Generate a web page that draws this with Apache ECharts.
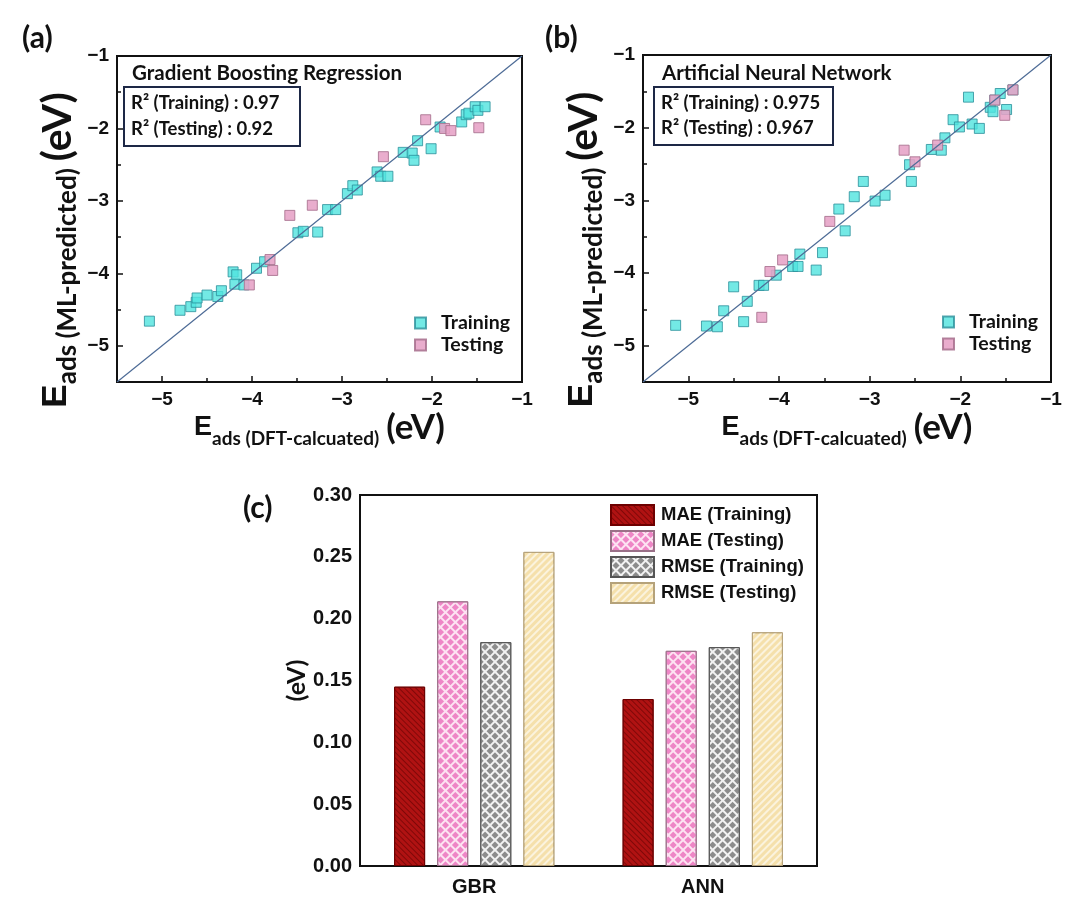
<!DOCTYPE html>
<html>
<head>
<meta charset="utf-8">
<title>GBR / ANN adsorption energy</title>
<script src="https://cdn.jsdelivr.net/npm/echarts@6/dist/echarts.min.js"></script>
<style>
  html, body { margin: 0; background: #fff; }
  #chart { width: 1080px; height: 910px; }
</style>
</head>
<body>
<div id="chart"></div>
<script>
// (a) Gradient Boosting Regression - DFT (x) vs ML (y), eV
var gbrTrainX = [-5.14, -4.80, -4.68, -4.62, -4.61, -4.50, -4.38, -4.34, -4.21, -4.17, -4.19, -4.09, -3.95, -3.86,
  -3.49, -3.43, -3.27, -3.16, -3.07, -2.94, -2.88, -2.83, -2.61, -2.57, -2.49, -2.32, -2.22, -2.20, -2.16, -2.01,
  -1.91, -1.67, -1.62, -1.59, -1.52, -1.49, -1.41];
var gbrTrainY = [-4.66, -4.51, -4.46, -4.40, -4.34, -4.30, -4.32, -4.24, -3.98, -4.02, -4.15, -4.16, -3.93, -3.84,
  -3.44, -3.42, -3.43, -3.12, -3.12, -2.90, -2.79, -2.85, -2.60, -2.66, -2.66, -2.33, -2.34, -2.44, -2.17, -2.28,
  -1.98, -1.91, -1.81, -1.79, -1.70, -1.75, -1.70];
var gbrTestX = [-3.58, -3.33, -3.80, -3.77, -4.03, -2.54, -2.07, -1.86, -1.79, -1.48];
var gbrTestY = [-3.20, -3.06, -3.81, -3.96, -4.16, -2.39, -1.88, -2.00, -2.03, -1.99];

// (b) Artificial Neural Network
var annTrainX = [-5.14, -4.80, -4.68, -4.61, -4.50, -4.39, -4.35, -4.22, -4.17, -4.03, -3.85, -3.79, -3.77, -3.59,
  -3.52, -3.34, -3.27, -3.17, -3.07, -2.94, -2.83, -2.56, -2.54, -2.32, -2.21, -2.17, -2.08, -2.01, -1.91, -1.87,
  -1.79, -1.67, -1.64, -1.62, -1.56, -1.49, -1.42];
var annTrainY = [-4.72, -4.73, -4.74, -4.52, -4.19, -4.67, -4.39, -4.17, -4.17, -4.03, -3.91, -3.91, -3.74, -3.96,
  -3.72, -3.12, -3.42, -2.95, -2.74, -3.01, -2.93, -2.51, -2.74, -2.30, -2.31, -2.14, -1.89, -1.99, -1.58, -1.95,
  -2.01, -1.72, -1.78, -1.62, -1.53, -1.75, -1.48];
var annTestX = [-4.19, -4.10, -3.96, -3.44, -2.62, -2.50, -2.25, -1.62, -1.51, -1.42];
var annTestY = [-4.61, -3.98, -3.82, -3.29, -2.31, -2.47, -2.24, -1.62, -1.83, -1.48];

var diagonal = [-5.5, -1]; // y = x reference line

// (c) errors, eV
var models = ['GBR', 'ANN'];
var maeTrain = [0.145, 0.135];
var maeTest = [0.214, 0.174];
var rmseTrain = [0.181, 0.177];
var rmseTest = [0.254, 0.189];

var chart = echarts.init(document.getElementById('chart'));

var INK = '#111';
var arial = 'Liberation Sans';
var calibri = 'Lato';

function pairs(xs, ys) {
  return xs.map(function (x, i) { return [x, ys[i]]; });
}
function minus(v) {
  return String(v).replace('-', '\u2212');
}

var tickStyle = { color: INK, width: 1.5 };

function energyAxis(grid, isY) {
  var big = isY ? 35 : 27;
  var sub = isY ? 26 : 19;
  var unit = isY ? 41 : 35;
  var label = isY ? 'ML-predicted' : 'DFT-calcuated';
  return {
    gridIndex: grid,
    type: 'value',
    min: -5.5,
    max: -1,
    name: '{e|E}{s|ads (' + label + ')}{u|(eV)}',
    nameLocation: 'middle',
    nameGap: isY ? 36 : 20,
    nameTextStyle: {
      padding: isY ? [0, 62, 0, 0] : 0,
      rich: {
        e: { fontFamily: arial, fontWeight: 'bold', fontSize: big, color: INK, verticalAlign: 'bottom', padding: [0, 0, 7, 0] },
        s: { fontFamily: calibri, fontWeight: 'bold', fontSize: sub, color: INK, verticalAlign: 'bottom' },
        u: { fontFamily: calibri, fontWeight: 'bold', fontSize: unit, color: INK, verticalAlign: 'bottom', padding: [0, 0, 3, 7] }
      }
    },
    axisLine: { show: true, onZero: false, lineStyle: { color: INK, width: 2 } },
    axisTick: { show: true, inside: true, length: 6, lineStyle: tickStyle },
    minorTick: { show: true, splitNumber: 2, length: 4, lineStyle: tickStyle },
    splitLine: { show: false },
    axisLabel: {
      showMinLabel: false,
      fontFamily: arial, fontWeight: 'bold', fontSize: 19, color: INK, margin: 8,
      formatter: minus
    }
  };
}

var training = { color: '#50e3df', borderColor: '#2a8e9a', borderWidth: 1 };
var testing = { color: '#e6a2c6', borderColor: '#a8728f', borderWidth: 1, opacity: 0.88 };

function panelSeries(idx, trX, trY, teX, teY) {
  return [
    { name: 'Training', type: 'scatter', xAxisIndex: idx, yAxisIndex: idx, symbol: 'rect', symbolSize: 10,
      itemStyle: training, data: pairs(trX, trY) },
    { name: 'Testing', type: 'scatter', xAxisIndex: idx, yAxisIndex: idx, symbol: 'rect', symbolSize: 10,
      itemStyle: testing, data: pairs(teX, teY) },
    { type: 'line', xAxisIndex: idx, yAxisIndex: idx, showSymbol: false, silent: true, z: 3,
      lineStyle: { color: '#4d6b96', width: 1.2 }, data: pairs(diagonal, diagonal) }
  ];
}

function hatch(color, rot, dash) {
  return { symbol: 'rect', symbolSize: 1, color: color, dashArrayX: [1, 0], dashArrayY: dash, rotation: rot };
}
function lattice(color) {
  return { symbol: 'rect', symbolSize: 1, color: color, dashArrayX: [5, 2], dashArrayY: [5, 2], rotation: Math.PI / 4 };
}

function bar(name, data, style) {
  return { name: name, type: 'bar', xAxisIndex: 2, yAxisIndex: 2, barWidth: 31, barGap: '39%',
    itemStyle: style, data: data };
}

var legendText = { fontFamily: calibri, fontWeight: 'bold', fontSize: 19.5, lineHeight: 22, color: INK, padding: [0, 0, 0, 10] };

var option = {
  animation: false,
  backgroundColor: '#fff',
  grid: [
    { left: 117, top: 56, width: 405, height: 326, show: true, borderColor: INK, borderWidth: 2 },
    { left: 643, top: 55, width: 408, height: 327, show: true, borderColor: INK, borderWidth: 2 },
    { left: 360, top: 495, width: 457, height: 371, show: true, borderColor: INK, borderWidth: 2 }
  ],
  xAxis: [
    energyAxis(0, false),
    energyAxis(1, false),
    {
      gridIndex: 2, type: 'category', data: models,
      axisLine: { lineStyle: { color: INK, width: 2 } },
      axisTick: { show: false },
      axisLabel: { fontFamily: arial, fontWeight: 'bold', fontSize: 20, color: INK, margin: 11 }
    }
  ],
  yAxis: [
    energyAxis(0, true),
    energyAxis(1, true),
    {
      gridIndex: 2, type: 'value', min: 0, max: 0.3, interval: 0.05,
      name: '(eV)', nameLocation: 'middle', nameGap: 50,
      nameTextStyle: { fontFamily: calibri, fontWeight: 'bold', fontSize: 25, color: INK },
      axisLine: { show: true, lineStyle: { color: INK, width: 2 } },
      axisTick: { show: false },
      splitLine: { show: false },
      axisLabel: { fontFamily: arial, fontWeight: 'bold', fontSize: 20, color: INK, margin: 8,
        formatter: function (v) { return v.toFixed(2); } }
    }
  ],
  legend: [
    { data: ['Training', 'Testing'], orient: 'vertical', left: 414, top: 312, padding: 0,
      icon: 'rect', itemWidth: 11, itemHeight: 11, itemGap: 0, textStyle: legendText },
    { data: ['Training', 'Testing'], orient: 'vertical', left: 942, top: 311, padding: 0,
      icon: 'rect', itemWidth: 11, itemHeight: 11, itemGap: 0, textStyle: legendText },
    { data: ['MAE (Training)', 'MAE (Testing)', 'RMSE (Training)', 'RMSE (Testing)'],
      orient: 'vertical', left: 610, top: 504, padding: 0, icon: 'rect',
      itemWidth: 43, itemHeight: 20, itemGap: 4,
      textStyle: { fontFamily: arial, fontWeight: 'bold', fontSize: 18.5, lineHeight: 20, color: INK, padding: [0, 0, 0, 2] } }
  ],
  graphic: [
    { type: 'text', x: 22, y: 38, style: { text: '(a)', font: 'bold 30px Lato', fill: INK, verticalAlign: 'middle' } },
    { type: 'text', x: 545, y: 38, style: { text: '(b)', font: 'bold 30px Lato', fill: INK, verticalAlign: 'middle' } },
    { type: 'text', x: 243, y: 508, style: { text: '(c)', font: 'bold 30px Lato', fill: INK, verticalAlign: 'middle' } },

    { type: 'text', x: 132, y: 73, style: { text: 'Gradient Boosting Regression', font: 'bold 20.5px Lato', fill: INK, verticalAlign: 'middle' } },
    { type: 'rect', shape: { x: 124, y: 87, width: 176, height: 59 }, style: { fill: '#fff', stroke: '#1d2846', lineWidth: 2 } },
    { type: 'text', x: 131, y: 103, style: { text: 'R² (Training) : 0.97', font: 'bold 18.5px Lato', fill: INK, verticalAlign: 'middle' } },
    { type: 'text', x: 131, y: 129, style: { text: 'R² (Testing) : 0.92', font: 'bold 18.5px Lato', fill: INK, verticalAlign: 'middle' } },

    { type: 'text', x: 662, y: 73, style: { text: 'Artificial Neural Network', font: 'bold 20.5px Lato', fill: INK, verticalAlign: 'middle' } },
    { type: 'rect', shape: { x: 654, y: 87, width: 179, height: 58 }, style: { fill: '#fff', stroke: '#1d2846', lineWidth: 2 } },
    { type: 'text', x: 661, y: 103, style: { text: 'R² (Training) : 0.975', font: 'bold 18.5px Lato', fill: INK, verticalAlign: 'middle' } },
    { type: 'text', x: 661, y: 128, style: { text: 'R² (Testing) : 0.967', font: 'bold 18.5px Lato', fill: INK, verticalAlign: 'middle' } }
  ],
  series: []
    .concat(panelSeries(0, gbrTrainX, gbrTrainY, gbrTestX, gbrTestY))
    .concat(panelSeries(1, annTrainX, annTrainY, annTestX, annTestY))
    .concat([
      bar('MAE (Training)', maeTrain, { color: '#b01212', borderColor: '#6e0000', borderWidth: 1,
        decal: hatch('rgba(90,0,0,0.55)', Math.PI / 4, [1, 3]) }),
      bar('MAE (Testing)', maeTest, { color: '#fde3f2', borderColor: '#9a7088', borderWidth: 1,
        decal: lattice('#ee86c6') }),
      bar('RMSE (Training)', rmseTrain, { color: '#f2f2f2', borderColor: '#555', borderWidth: 1,
        decal: lattice('#8c8c8c') }),
      bar('RMSE (Testing)', rmseTest, { color: '#f5e0ab', borderColor: '#b5a27a', borderWidth: 1,
        decal: hatch('rgba(255,255,255,0.6)', -Math.PI / 4, [2, 3]) })
    ])
};

chart.setOption(option);
</script>
</body>
</html>
